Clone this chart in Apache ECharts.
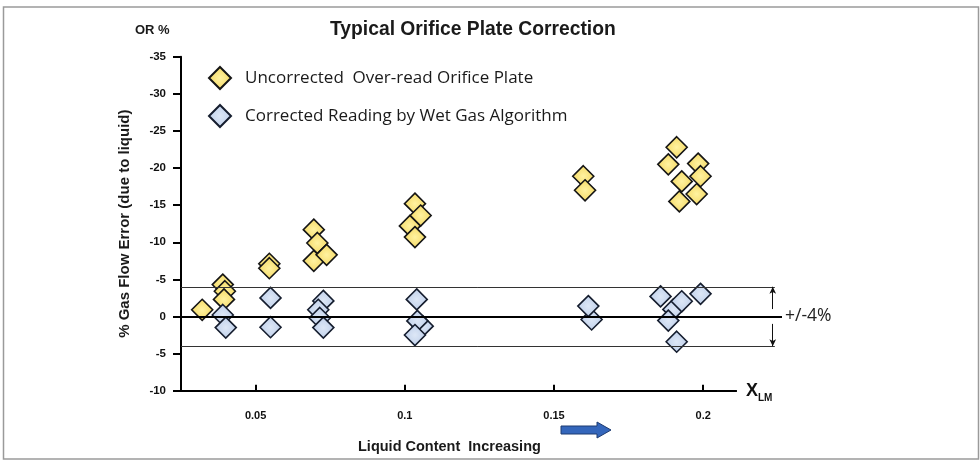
<!DOCTYPE html>
<html>
<head>
<meta charset="utf-8">
<script src="https://cdn.jsdelivr.net/npm/echarts@6/dist/echarts.min.js"></script>
<style>html,body{margin:0;padding:0;background:#fff}#c{width:980px;height:464px}</style>
</head>
<body>
<div id="c"></div>
<script>
// ---- data ----
var uncorrX = [0.0321, 0.039, 0.0397, 0.0394, 0.0546, 0.0546, 0.0695, 0.0707, 0.0695, 0.0738, 0.1034, 0.1053, 0.1017, 0.1034, 0.1598, 0.1604, 0.1911, 0.1883, 0.1983, 0.1991, 0.1928, 0.1978, 0.192];
var uncorrY = [-0.9, -4.3, -3.4, -2.3, -7.1, -6.5, -11.7, -9.9, -7.5, -8.3, -15.2, -13.6, -12.2, -10.7, -18.9, -17.0, -22.8, -20.5, -20.6, -18.9, -18.2, -16.5, -15.5];
var corrX = [0.039, 0.040, 0.055, 0.055, 0.0727, 0.071, 0.0715, 0.0727, 0.106, 0.104, 0.1042, 0.1034, 0.1626, 0.1615, 0.1857, 0.1991, 0.19, 0.1928, 0.1883, 0.1911];
var corrY = [-0.2, 1.5, -2.5, 1.45, -2.1, -0.9, 0.2, 1.5, 1.3, -2.3, 0.6, 2.5, 0.4, -1.4, -2.7, -3.05, -0.95, -2.05, 0.55, 3.4];
var xTicks = [0.05, 0.1, 0.15, 0.2];
var xTickLabels = ['0.05', '0.1', '0.15', '0.2'];
var yTicks = [-35, -30, -25, -20, -15, -10, -5, 0, 5, 10];
var yTickLabels = ['-35', '-30', '-25', '-20', '-15', '-10', '-5', '0', '-5', '-10'];
var bandValues = [-4, 4];
var seriesNames = ['Uncorrected  Over-read Orifice Plate', 'Corrected Reading by Wet Gas Algorithm'];

// axis extents
var xMin = 0.025, xMax = 0.2264, xAxisEnd = 0.2113, bandEnd = 0.224, arrowX = 0.2233;
var yMin = -35, yMax = 10;

function pairs(xs, ys) { return xs.map(function (x, i) { return [x, ys[i]]; }); }

var yellowFill = new echarts.graphic.RadialGradient(0.5, 0.5, 0.6, [
  { offset: 0, color: '#fff2a0' }, { offset: 1, color: '#f2d45a' }]);
var blueFill = new echarts.graphic.RadialGradient(0.5, 0.5, 0.6, [
  { offset: 0, color: '#dde7f6' }, { offset: 1, color: '#b9cbe8' }]);

var chart = echarts.init(document.getElementById('c'), null, { renderer: 'canvas' });
chart.setOption({
  animation: false,
  backgroundColor: '#fff',
  title: [
    { text: 'Typical Orifice Plate Correction', left: 330, top: 20, padding: 0,
      textStyle: { fontFamily: 'Liberation Sans', fontWeight: 'bold', fontSize: 19.3, color: '#1a1a1a' } },
    { text: 'OR %', left: 135, top: 24, padding: 0,
      textStyle: { fontFamily: 'Liberation Sans', fontWeight: 'bold', fontSize: 13, color: '#1a1a1a' } },
    { text: '{x|X}{s|LM}', left: 746, top: 380, padding: 0,
      textStyle: { rich: {
        x: { fontFamily: 'Liberation Sans', fontSize: 18, color: '#111', verticalAlign: 'bottom', lineHeight: 20 },
        s: { fontFamily: 'Liberation Sans', fontWeight: 'bold', fontSize: 10, color: '#111', verticalAlign: 'bottom', lineHeight: 14, padding: [0, 0, -3, 0] } } } },
    { text: 'Liquid Content  Increasing', left: 358, top: 439, padding: 0,
      textStyle: { fontFamily: 'Liberation Sans', fontWeight: 'bold', fontSize: 14.5, color: '#1a1a1a' } }
  ],
  legend: {
    data: seriesNames,
    orient: 'vertical', left: 203, top: 61, itemGap: 14,
    itemWidth: 22, itemHeight: 22, icon: 'diamond',
    textStyle: { fontFamily: 'Open Sans', fontSize: 17, color: '#1a1a1a', padding: [0, 0, 0, 9] }
  },
  grid: { left: 181, top: 56.7, right: 198, bottom: 73.3, containLabel: false },
  xAxis: {
    type: 'value', min: xMin, max: xMax,
    axisLine: { show: false, onZero: false },
    axisTick: { show: true, inside: true, length: 6, lineStyle: { color: '#000', width: 2 }, customValues: xTicks },
    axisLabel: { customValues: xTicks, margin: 20, fontFamily: 'Liberation Sans', fontWeight: 'bold', fontSize: 11, color: '#111',
      formatter: function (v) { var i = xTicks.indexOf(v); return i >= 0 ? xTickLabels[i] : ''; } },
    splitLine: { show: false }
  },
  yAxis: {
    type: 'value', min: yMin, max: yMax, interval: 5, inverse: true,
    name: '% Gas Flow Error (due to liquid)', nameLocation: 'middle', nameGap: 49, nameRotate: 90,
    nameTextStyle: { fontFamily: 'Liberation Sans', fontWeight: 'bold', fontSize: 15, color: '#1a1a1a' },
    axisLine: { show: true, onZero: false, lineStyle: { color: '#000', width: 2 } },
    axisTick: { show: true, length: 8, lineStyle: { color: '#000', width: 2 } },
    axisLabel: { margin: 15, fontFamily: 'Liberation Sans', fontWeight: 'bold', fontSize: 11.5, color: '#111',
      formatter: function (v) { var i = yTicks.indexOf(v); return i >= 0 ? yTickLabels[i] : ''; } },
    splitLine: { show: false }
  },
  series: [
    {
      type: 'scatter', name: 'lines', data: [], silent: true,
      markLine: {
        silent: true, symbol: 'none', animation: false,
        label: { show: false },
        data: [
          [{ coord: [xMin, yMax], lineStyle: { color: '#000', width: 2, type: 'solid' } }, { coord: [xAxisEnd, yMax] }],
          [{ coord: [xMin, bandValues[0]], lineStyle: { color: '#333', width: 1, type: 'solid' } }, { coord: [bandEnd, bandValues[0]] }],
          [{ coord: [xMin, bandValues[1]], lineStyle: { color: '#333', width: 1, type: 'solid' } }, { coord: [bandEnd, bandValues[1]] }],
          [{ coord: [xMin, 0], lineStyle: { color: '#000', width: 2.2, type: 'solid' },
             label: { show: true, position: 'end', distance: 3, formatter: '+/-4%', fontFamily: 'Open Sans', fontSize: 17.5, color: '#222' } },
           { coord: [xMax, 0] }],
          [{ coord: [arrowX, -1], symbol: 'none', lineStyle: { color: '#111', width: 1, type: 'solid' } },
           { coord: [arrowX, bandValues[0]], symbol: 'arrow', symbolSize: [5, 7] }],
          [{ coord: [arrowX, 1], symbol: 'none', lineStyle: { color: '#111', width: 1, type: 'solid' } },
           { coord: [arrowX, bandValues[1]], symbol: 'arrow', symbolSize: [5, 7] }]
        ]
      }
    },
    {
      type: 'scatter', name: seriesNames[0], data: pairs(uncorrX, uncorrY),
      symbol: 'diamond', symbolSize: 21,
      itemStyle: { color: yellowFill, borderColor: '#151515', borderWidth: 1.6, opacity: 1 },
      z: 3
    },
    {
      type: 'scatter', name: seriesNames[1], data: pairs(corrX, corrY),
      symbol: 'diamond', symbolSize: 21,
      itemStyle: { color: blueFill, borderColor: '#151d2e', borderWidth: 1.6, opacity: 1 },
      z: 3
    }
  ],
  graphic: [
    { type: 'rect', shape: { x: 3.5, y: 7, width: 975, height: 452 }, style: { fill: 'none', stroke: '#9a9a9a', lineWidth: 1.5 }, silent: true },
    { type: 'polygon', shape: { points: [[561, 426], [597, 426], [597, 422], [611, 430], [597, 438], [597, 434], [561, 434]] },
      style: { fill: '#3466bb', stroke: '#1d3a70', lineWidth: 1 }, silent: true }
  ]
});
</script>
</body>
</html>
